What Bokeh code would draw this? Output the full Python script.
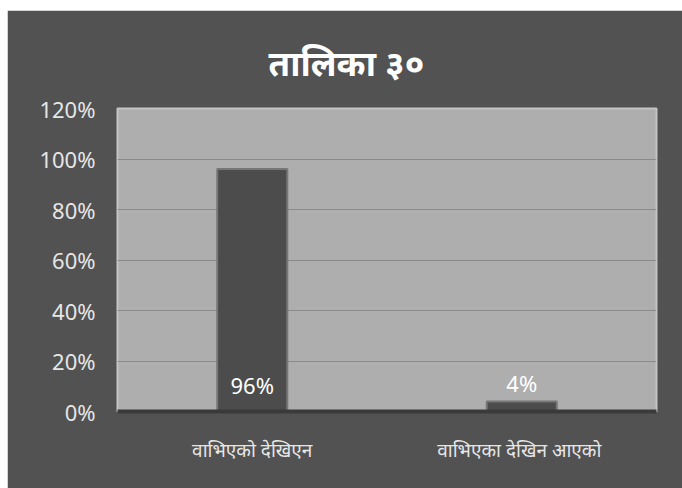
from bokeh.plotting import figure
from bokeh.models import NumeralTickFormatter, FixedTicker, ColumnDataSource, LabelSet
from bokeh.core.properties import value
from bokeh.embed import file_html
from bokeh.resources import INLINE

title_text = "तालिका ३०"
categories = ["वाभिएको देखिएन", "वाभिएका देखिन  आएको"]
values = [0.96, 0.04]
value_labels = ["96%", "4%"]
y_ticks = [0, 0.2, 0.4, 0.6, 0.8, 1.0, 1.2]

# first label sits inside the bar near its base, second above its bar
label_y = [0.0, values[1]]
label_off = [12, 3]

src = ColumnDataSource(dict(cat=categories, val=values, lab=value_labels,
                            ly=label_y, off=label_off))

p = figure(x_range=categories, y_range=(0, 1.2), width=675, height=478,
           output_backend="svg", toolbar_location=None, tools="",
           margin=(10, 0, 0, 7),
           min_border_left=110, min_border_right=26, min_border_top=98, min_border_bottom=77)

p.title.text = title_text
p.title.align = "left"
p.title.offset = 151
p.title.standoff = 46
p.title.text_color = "white"
p.title.text_font = "Noto Sans"
p.title.text_font_size = "35px"
p.title.text_font_style = "bold"

p.background_fill_color = "#aeaeae"
p.border_fill_color = "#525252"
p.outline_line_color = "#c4c4c4"
p.outline_line_width = 2

p.vbar(x="cat", top="val", width=0.26, source=src, fill_color="#4c4c4c",
       line_color="#777777", line_width=2)

labels = LabelSet(x="cat", y="ly", text="lab", source=src, text_align="center",
                  text_baseline="bottom", y_offset="off", text_color="white",
                  text_font_size="22px", text_font=value("Noto Sans"))
p.add_layout(labels)

p.yaxis.ticker = FixedTicker(ticks=y_ticks)
p.yaxis.formatter = NumeralTickFormatter(format="0%")
p.yaxis.axis_line_color = None
p.yaxis.major_tick_line_color = None
p.yaxis.minor_tick_line_color = None
p.yaxis.major_label_text_color = "#e6e6e6"
p.yaxis.major_label_text_font = "Noto Sans"
p.yaxis.major_label_text_font_size = "22px"
p.yaxis.major_label_standoff = 16

p.xaxis.axis_line_color = "#3a3a3a"
p.xaxis.axis_line_width = 4
p.xaxis.major_tick_line_color = None
p.xaxis.minor_tick_line_color = None
p.xaxis.major_label_text_color = "#e6e6e6"
p.xaxis.major_label_text_font = "Noto Sans"
p.xaxis.major_label_text_font_size = "19px"
p.xaxis.major_label_standoff = 19

p.xgrid.grid_line_color = None
p.ygrid.grid_line_color = "#8a8a8a"
p.ygrid.grid_line_width = 1

open("out.html", "w").write(file_html(p, INLINE))
